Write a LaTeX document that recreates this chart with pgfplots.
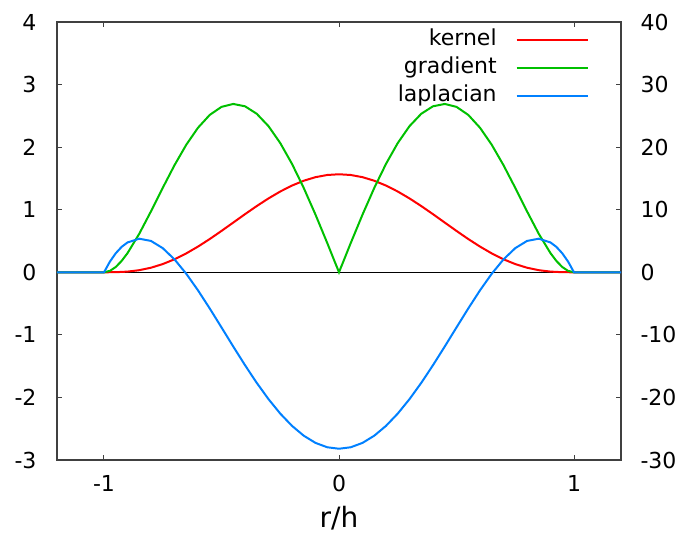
\documentclass[border=0pt]{standalone}
\usepackage{pgfplots}
\pgfplotsset{compat=1.18}
\usepackage{fontspec}
\setmainfont{DejaVu Sans}

\definecolor{gpred}{HTML}{FF0000}
\definecolor{gpgreen}{HTML}{00C000}
\definecolor{gpblue}{HTML}{0080FF}
\definecolor{gpaxis}{HTML}{404040}

\pgfplotsset{
  common/.style={
    scale only axis, width=564pt, height=438pt,
    at={(0pt,0pt)}, anchor=south west,
    xmin=-1.2, xmax=1.2,
    /pgf/number format/assume math mode=true,
    tick label style={font=\fontsize{22}{26}\selectfont},
    tick style={gpaxis, line width=1pt},
    major tick length=5pt,
    tick align=inside,
    axis line style={gpaxis, line width=1.2pt},
  },
}

\begin{document}
\begin{tikzpicture}
\path[use as bounding box] (-57pt,-75pt) rectangle (618pt,460pt);

% left axis: kernel and its gradient magnitude
\begin{axis}[common,
  ymin=-3, ymax=4, ytick={-3,-2,...,4}, ytick pos=left,
  xtick={-1,0,1}, xtick pos=both, xticklabel pos=lower,
  yticklabel style={xshift=-17pt},
  xticklabel style={yshift=-12pt},
  xlabel={r/h},
  xlabel style={font=\fontsize{28}{32}\selectfont,
    at={(axis description cs:0.5,0)}, anchor=base, yshift=-68pt},
  legend cell align=right,
  legend plot pos=right,
  legend image code/.code={\draw[#1] (0pt,0pt) -- (71pt,0pt);},
  legend style={draw=none, fill=none, inner sep=0pt,
    at={(axis description cs:0.943,0.985)}, anchor=north east,
    font=\fontsize{22}{26}\selectfont, row sep=5pt, column sep=18pt,
    nodes={inner sep=1pt, text height=16pt, text depth=5pt}},
]
\addplot[black, line width=0.6pt, forget plot] coordinates {(-1.2,0) (1.2,0)};

\addplot[gpred, line width=2pt] coordinates {
(-1.2,0) (-1.0,0) (-0.95,0.00145) (-0.9,0.01075) (-0.85,0.03348) (-0.8,0.07310)
(-0.75,0.13120) (-0.7,0.20782) (-0.65,0.30175) (-0.6,0.41070) (-0.55,0.53164)
(-0.5,0.66095) (-0.45,0.79465) (-0.4,0.92859) (-0.35,1.05859) (-0.3,1.18062)
(-0.25,1.29092) (-0.2,1.38612) (-0.15,1.46331) (-0.1,1.52020) (-0.05,1.55497)
(0,1.56670)
(0.05,1.55497) (0.1,1.52020) (0.15,1.46331) (0.2,1.38612) (0.25,1.29092)
(0.3,1.18062) (0.35,1.05859) (0.4,0.92859) (0.45,0.79465) (0.5,0.66095)
(0.55,0.53164) (0.6,0.41070) (0.65,0.30175) (0.7,0.20782) (0.75,0.13120)
(0.8,0.07310) (0.85,0.03348) (0.9,0.01075) (0.95,0.00145) (1.0,0) (1.2,0)};
\addlegendentry{kernel}

\addplot[gpgreen, line width=2pt] coordinates {
(-1.2,0) (-1.0,0) (-0.975,0.02234) (-0.95,0.08489) (-0.925,0.18124) (-0.9,0.30541)
(-0.85,0.61528) (-0.8,0.97459) (-0.75,1.34941) (-0.7,1.71146) (-0.65,2.03772)
(-0.6,2.31014) (-0.55,2.51524) (-0.5,2.64375) (-0.45,2.69031) (-0.4,2.65306)
(-0.35,2.53332) (-0.3,2.33524) (-0.25,2.06543) (-0.2,1.73261) (-0.15,1.34726)
(-0.1,0.92129) (-0.05,0.46765) (0,0)
(0.05,0.46765) (0.1,0.92129) (0.15,1.34726) (0.2,1.73261) (0.25,2.06543)
(0.3,2.33524) (0.35,2.53332) (0.4,2.65306) (0.45,2.69031) (0.5,2.64375)
(0.55,2.51524) (0.6,2.31014) (0.65,2.03772) (0.7,1.71146) (0.75,1.34941)
(0.8,0.97459) (0.85,0.61528) (0.9,0.30541) (0.925,0.18124) (0.95,0.08489)
(0.975,0.02234) (1.0,0) (1.2,0)};
\addlegendentry{gradient}

\addlegendimage{gpblue, line width=2pt}
\addlegendentry{laplacian}
\end{axis}

% right axis: laplacian
\begin{axis}[common,
  ymin=-30, ymax=40, ytick={-30,-20,...,40},
  yticklabel style={xshift=16pt},
  axis x line=none, axis y line*=right,
]
\addplot[gpblue, line width=2pt] coordinates {
(-1.2,0) (-1.0,0) (-0.975,1.696) (-0.95,3.0405) (-0.925,4.0570) (-0.9,4.7686)
(-0.85,5.3670) (-0.8,5.0083) (-0.75,3.8555) (-0.7,2.0614) (-0.65,-0.2307)
(-0.6,-2.888) (-0.55,-5.786) (-0.5,-8.8125) (-0.45,-11.863) (-0.4,-14.844)
(-0.35,-17.672) (-0.3,-20.273) (-0.25,-22.582) (-0.2,-24.545) (-0.15,-26.118)
(-0.1,-27.267) (-0.05,-27.965) (0,-28.200)
(0.05,-27.965) (0.1,-27.267) (0.15,-26.118) (0.2,-24.545) (0.25,-22.582)
(0.3,-20.273) (0.35,-17.672) (0.4,-14.844) (0.45,-11.863) (0.5,-8.8125)
(0.55,-5.786) (0.6,-2.888) (0.65,-0.2307) (0.7,2.0614) (0.75,3.8555)
(0.8,5.0083) (0.85,5.3670) (0.9,4.7686) (0.925,4.0570) (0.95,3.0405)
(0.975,1.696) (1.0,0) (1.2,0)};
\end{axis}
\end{tikzpicture}
\end{document}
